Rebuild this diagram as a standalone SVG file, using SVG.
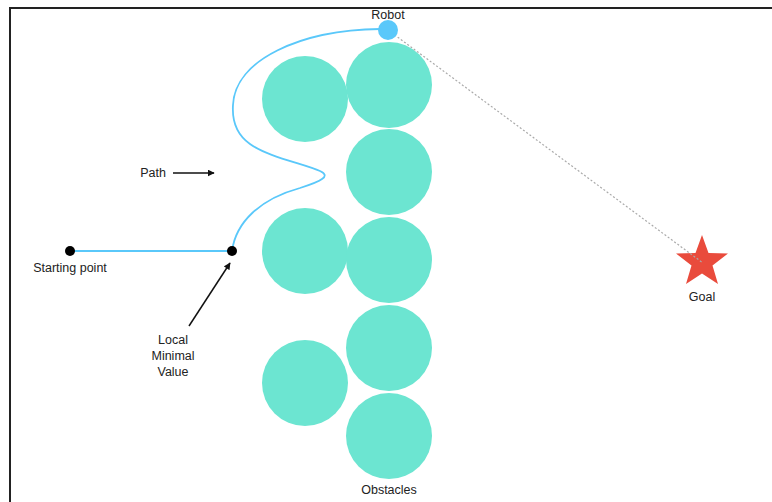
<svg xmlns="http://www.w3.org/2000/svg" width="772" height="502" viewBox="0 0 772 502">
<defs>
<style>
.lbl{font-family:"Liberation Sans",Arial,sans-serif;font-size:12.5px;fill:#222;text-anchor:middle}
.obs{fill:#6ce5d1}
.dot{fill:#000}
</style>
<marker id="ah" viewBox="0 0 10 10" refX="9" refY="5" markerWidth="7" markerHeight="7" orient="auto" markerUnits="userSpaceOnUse">
<path d="M0,0 L10,5 L0,10 z" fill="#111"/>
</marker>
</defs>
<rect x="0" y="0" width="772" height="502" fill="#fff"/>
<rect x="10" y="8" width="800" height="520" fill="none" stroke="#222" stroke-width="2"/>
<g id="goal">
<polygon points="702,235 708.5,253 728,253.5 712.5,265.5 718,284 702,273.5 686,284 691.5,265.5 676,253.5 695.5,253" fill="#e94b3c"/>
<text class="lbl" x="702" y="301">Goal</text>
</g>
<g id="obstacles">
<circle class="obs" cx="305" cy="99" r="43"/>
<circle class="obs" cx="305" cy="251" r="43"/>
<circle class="obs" cx="305" cy="383" r="43"/>
<circle class="obs" cx="389" cy="85" r="43"/>
<circle class="obs" cx="389" cy="172" r="43"/>
<circle class="obs" cx="389" cy="260" r="43"/>
<circle class="obs" cx="389" cy="348" r="43"/>
<circle class="obs" cx="389" cy="436" r="43"/>
<text class="lbl" x="389" y="494">Obstacles</text>
</g>
<g id="connectors">
<line x1="388" y1="30" x2="703" y2="263" stroke="#aaa" stroke-width="1.2" stroke-dasharray="2,2"/>
<path d="M70,251 L232,251 C236,222 260,199 300,188 C322,181 331,176 320,171 C305,164 268,157 250,144 C236,134 232,120 233,105 C235,60 300,30 380,29" fill="none" stroke="#5ac8fa" stroke-width="1.8"/>
<line x1="173" y1="173" x2="214" y2="173" stroke="#111" stroke-width="1.5" marker-end="url(#ah)"/>
<line x1="189" y1="326" x2="230" y2="263" stroke="#111" stroke-width="1.5" marker-end="url(#ah)"/>
</g>
<g id="robot">
<circle cx="388" cy="30" r="10" fill="#5ac8fa"/>
<text class="lbl" x="388" y="19">Robot</text>
</g>
<g id="start">
<circle class="dot" cx="70" cy="251" r="5"/>
<text class="lbl" x="70" y="272">Starting point</text>
</g>
<g id="local-min">
<circle class="dot" cx="232" cy="251" r="5"/>
<text class="lbl" x="173" y="344">Local</text>
<text class="lbl" x="173" y="360">Minimal</text>
<text class="lbl" x="173" y="376">Value</text>
</g>
<g id="path-label">
<text class="lbl" x="153" y="177">Path</text>
</g>
</svg>
